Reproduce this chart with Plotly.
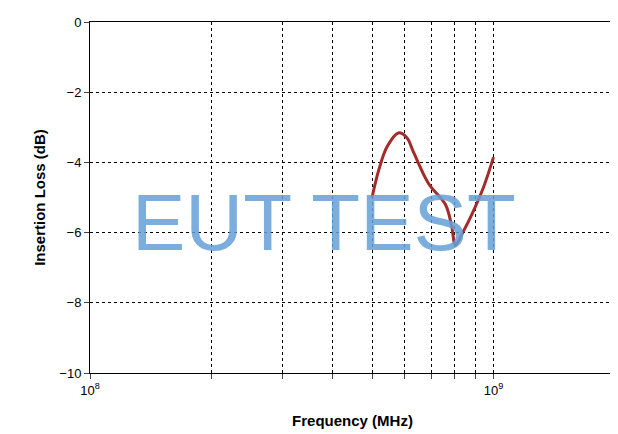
import numpy as np
import plotly.graph_objects as go

freq_mhz = [500, 520, 545, 581, 610, 633, 690, 760, 787, 805, 843, 882, 945, 1000]
loss_db = [-5.0, -4.2, -3.55, -3.16, -3.3, -3.7, -4.6, -5.2, -5.8, -6.35, -5.95, -5.5, -4.7, -3.85]

x_ticks = [1e8, 2e8, 3e8, 4e8, 5e8, 6e8, 7e8, 8e8, 9e8, 1e9, 2e9]
x_labels = ["10<sup>8</sup>"] + [""] * 8 + ["10<sup>9</sup>", ""]
y_ticks = [0, -2, -4, -6, -8, -10]

fig = go.Figure()
fig.add_trace(go.Scatter(
    x=np.array(freq_mhz) * 1e6, y=loss_db, mode="lines",
    line=dict(color="#a52a2a", width=3, shape="spline"),
))

fig.add_annotation(
    text="EUT TEST", x=0.445, y=0.43, xref="paper", yref="paper", showarrow=False,
    font=dict(family="Liberation Sans, Arial", size=80, color="rgba(100,160,215,0.85)"),
)

fig.update_layout(
    width=618, height=434, showlegend=False,
    margin=dict(l=82, r=11, t=14, b=69),
    plot_bgcolor="white", paper_bgcolor="white",
    font=dict(family="Liberation Sans, Arial", size=13, color="black"),
)
fig.update_xaxes(
    type="log", range=[8, np.log10(2e9)], tickvals=x_ticks, ticktext=x_labels,
    showgrid=True, gridcolor="black", griddash="dot", gridwidth=1, automargin=False,
    showline=True, linecolor="black", mirror=True, ticks="outside", ticklen=5,
    title=dict(text="<b>Frequency (MHz)</b>", font=dict(size=15), standoff=18), zeroline=False,
)
fig.update_yaxes(
    range=[-10, 0], tickvals=y_ticks, automargin=False,
    showgrid=True, gridcolor="black", griddash="dot", gridwidth=1,
    showline=True, linecolor="black", mirror=True, ticks="outside", ticklen=5,
    title=dict(text="<b>Insertion Loss (dB)</b>", font=dict(size=15), standoff=10), zeroline=False,
)

fig.write_html("out.html")
